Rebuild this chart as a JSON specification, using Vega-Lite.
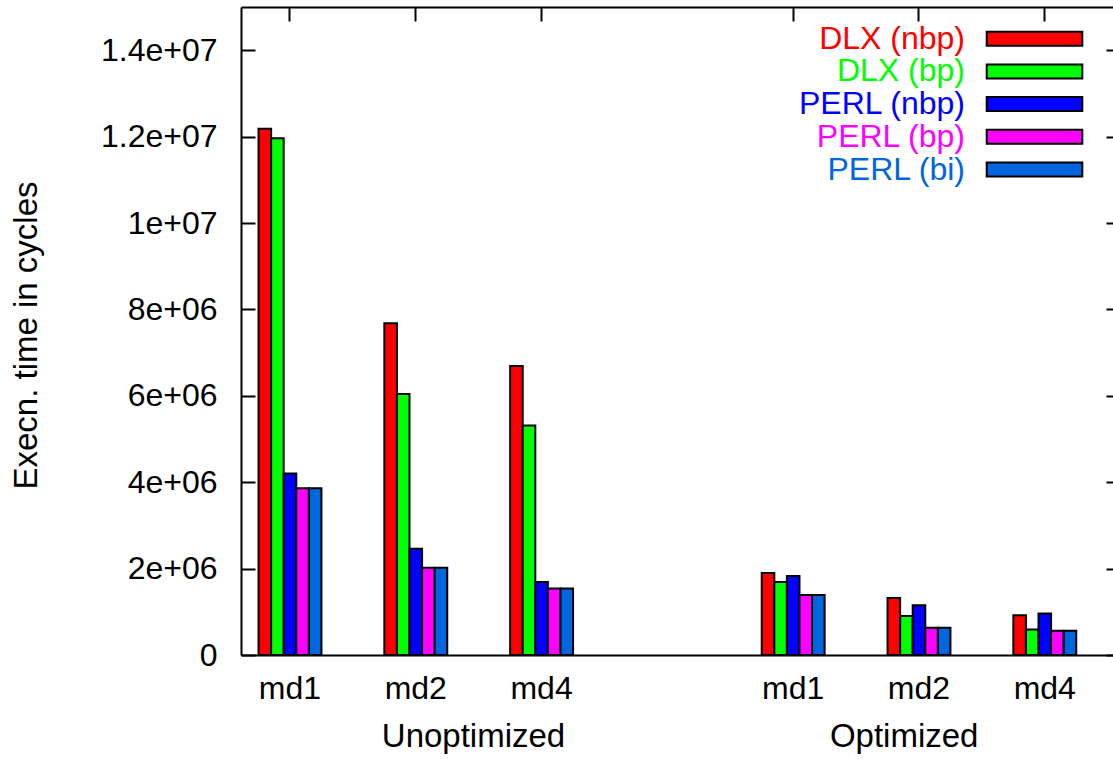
{
  "$schema": "https://vega.github.io/schema/vega-lite/v6.json",
  "autosize": {"type": "none"},
  "padding": {"left": 241, "top": 7, "right": 0, "bottom": 106},
  "width": 872,
  "height": 648,
  "background": "white",
  "config": {
    "view": {"stroke": null},
    "font": "Liberation Sans",
    "axis": {"labelFont": "Liberation Sans", "titleFont": "Liberation Sans", "labelColor": "black", "titleColor": "black", "domainColor": "black", "tickColor": "black", "domainWidth": 2, "tickWidth": 2, "grid": false, "titleFontWeight": "normal", "labelFontSize": 32, "titleFontSize": 33}
  },
  "data": {
    "values": [
      {"case": "Unoptimized md1", "series": "DLX (nbp)", "cycles": 12180000},
      {"case": "Unoptimized md1", "series": "DLX (bp)", "cycles": 11960000},
      {"case": "Unoptimized md1", "series": "PERL (nbp)", "cycles": 4200000},
      {"case": "Unoptimized md1", "series": "PERL (bp)", "cycles": 3860000},
      {"case": "Unoptimized md1", "series": "PERL (bi)", "cycles": 3860000},
      {"case": "Unoptimized md2", "series": "DLX (nbp)", "cycles": 7680000},
      {"case": "Unoptimized md2", "series": "DLX (bp)", "cycles": 6040000},
      {"case": "Unoptimized md2", "series": "PERL (nbp)", "cycles": 2460000},
      {"case": "Unoptimized md2", "series": "PERL (bp)", "cycles": 2020000},
      {"case": "Unoptimized md2", "series": "PERL (bi)", "cycles": 2020000},
      {"case": "Unoptimized md4", "series": "DLX (nbp)", "cycles": 6690000},
      {"case": "Unoptimized md4", "series": "DLX (bp)", "cycles": 5310000},
      {"case": "Unoptimized md4", "series": "PERL (nbp)", "cycles": 1690000},
      {"case": "Unoptimized md4", "series": "PERL (bp)", "cycles": 1540000},
      {"case": "Unoptimized md4", "series": "PERL (bi)", "cycles": 1540000},
      {"case": "Optimized md1", "series": "DLX (nbp)", "cycles": 1900000},
      {"case": "Optimized md1", "series": "DLX (bp)", "cycles": 1690000},
      {"case": "Optimized md1", "series": "PERL (nbp)", "cycles": 1830000},
      {"case": "Optimized md1", "series": "PERL (bp)", "cycles": 1390000},
      {"case": "Optimized md1", "series": "PERL (bi)", "cycles": 1390000},
      {"case": "Optimized md2", "series": "DLX (nbp)", "cycles": 1320000},
      {"case": "Optimized md2", "series": "DLX (bp)", "cycles": 900000},
      {"case": "Optimized md2", "series": "PERL (nbp)", "cycles": 1150000},
      {"case": "Optimized md2", "series": "PERL (bp)", "cycles": 630000},
      {"case": "Optimized md2", "series": "PERL (bi)", "cycles": 630000},
      {"case": "Optimized md4", "series": "DLX (nbp)", "cycles": 920000},
      {"case": "Optimized md4", "series": "DLX (bp)", "cycles": 590000},
      {"case": "Optimized md4", "series": "PERL (nbp)", "cycles": 960000},
      {"case": "Optimized md4", "series": "PERL (bp)", "cycles": 560000},
      {"case": "Optimized md4", "series": "PERL (bi)", "cycles": 560000}
    ]
  },
  "layer": [
    {
      "mark": {"type": "bar", "stroke": "black", "strokeWidth": 2, "opacity": 1},
      "encoding": {
        "x": {
          "field": "case", "type": "nominal",
          "scale": {"domain": ["Unoptimized md1", "Unoptimized md2", "Unoptimized md4", "gap", "Optimized md1", "Optimized md2", "Optimized md4"], "paddingInner": 0.5, "paddingOuter": 0.2158, "align": 0.323},
          "axis": {
            "orient": "bottom", "ticks": false, "tickSize": 0, "labelAngle": 0,
            "values": ["Unoptimized md1", "Unoptimized md2", "Unoptimized md4", "Optimized md1", "Optimized md2", "Optimized md4"],
            "labelExpr": "datum.label == 'gap' ? '' : split(datum.label, ' ')[1]",
            "labelBaseline": "alphabetic", "labelPadding": 43,
            "title": "Unoptimized", "titleX": 232, "titleY": 91.7, "titleBaseline": "alphabetic", "titleAlign": "center", "titleAnchor": null
          }
        },
        "xOffset": {"field": "series", "type": "nominal", "sort": ["DLX (nbp)", "DLX (bp)", "PERL (nbp)", "PERL (bp)", "PERL (bi)"], "scale": {"paddingInner": 0, "paddingOuter": 0}},
        "y": {
          "field": "cycles", "type": "quantitative",
          "scale": {"domain": [0, 15000000], "nice": false, "zero": true},
          "axis": {
            "orient": "left",
            "values": [0, 2000000, 4000000, 6000000, 8000000, 10000000, 12000000, 14000000],
            "labelExpr": "datum.value == 0 ? '0' : replace(format(datum.value, '.2~e'), regexp('e\\\\+(\\\\d)$'), 'e+0$1')",
            "tickSize": -14, "labelPadding": 38,
            "title": "Execn. time in cycles", "titleX": -205, "titleY": 328, "titleAngle": -90, "titleBaseline": "alphabetic", "titleAlign": "center", "titleAnchor": null
          }
        },
        "color": {
          "field": "series", "type": "nominal",
          "scale": {"domain": ["DLX (nbp)", "DLX (bp)", "PERL (nbp)", "PERL (bp)", "PERL (bi)"], "range": ["#ff0000", "#00ff00", "#0000ff", "#ff00ff", "#0066e0"]},
          "legend": {
            "orient": "none", "legendX": 600, "legendY": 15.7, "title": null, "padding": 0,
            "labelFont": "Liberation Sans", "labelFontSize": 32, "labelLimit": 0,
            "symbolType": "M-1,-0.146H1V0.146H-1Z", "symbolSize": 9139,
            "symbolStrokeColor": "black", "symbolStrokeWidth": 2, "symbolOpacity": 1,
            "rowPadding": 0.7,
            "encode": {
              "labels": {"update": {"fill": {"scale": "color", "field": "value"}, "x": {"value": 124}, "y": {"value": 16}, "align": {"value": "right"}, "baseline": {"value": "middle"}}},
              "symbols": {"update": {"x": {"value": 193.5}, "y": {"value": 16}, "stroke": {"value": "black"}, "strokeWidth": {"value": 2}}}
            }
          }
        }
      }
    },
    {
      "mark": {"type": "bar", "opacity": 0},
      "encoding": {
        "x": {
          "field": "case", "type": "nominal",
          "axis": {
            "orient": "top", "labels": false, "tickSize": -14, "bandPosition": 0.5,
            "values": ["Unoptimized md1", "Unoptimized md2", "Unoptimized md4", "Optimized md1", "Optimized md2", "Optimized md4"],
            "title": "Optimized", "titleX": 662.7, "titleY": 739.7, "titleBaseline": "alphabetic", "titleAlign": "center", "titleAnchor": null
          }
        },
        "xOffset": {"field": "series", "type": "nominal", "sort": ["DLX (nbp)", "DLX (bp)", "PERL (nbp)", "PERL (bp)", "PERL (bi)"]},
        "y": {
          "field": "cycles", "type": "quantitative",
          "axis": {
            "orient": "right", "labels": false, "domain": false, "tickSize": -7,
            "values": [0, 2000000, 4000000, 6000000, 8000000, 10000000, 12000000, 14000000],
            "title": null
          }
        }
      }
    }
  ],
  "resolve": {"axis": {"x": "independent", "y": "independent"}}
}
